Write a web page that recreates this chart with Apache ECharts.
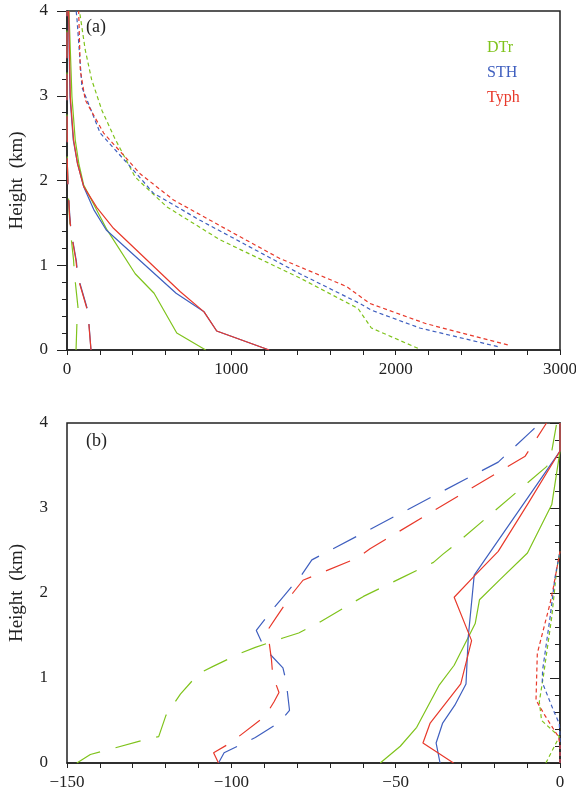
<!DOCTYPE html>
<html>
<head>
<meta charset="utf-8">
<script src="https://cdn.jsdelivr.net/npm/echarts@6/dist/echarts.min.js"></script>
<style>
  html, body { margin: 0; padding: 0; background: #fff; }
  #chart { width: 576px; height: 796px; }
</style>
</head>
<body>
<div id="chart"></div>
<script>
// 颜色
var cDTr = '#7fc31c', cSTH = '#3f5fbf', cTyph = '#e8392b'
var FONT = 'Liberation Serif, DejaVu Serif, serif'

// (a) 数据 [x, height km]
var aSolidDTr = [[844,0],[668,0.2],[530,0.67],[415,0.9],[243,1.42],[101,1.95],[72,2.2],[50,2.48],[30,2.99],[12,4]]
var aSolidSTH = [[1230,0],[911,0.224],[834,0.45],[664,0.67],[239,1.416],[162,1.66],[101,1.93],[64,2.2],[38,2.48],[18,2.99],[9,4]]
var aSolidTyph = [[1230,0],[911,0.224],[834,0.45],[688,0.69],[283,1.436],[182,1.68],[101,1.93],[64,2.2],[40,2.48],[20,2.99],[10,4]]

var aDashDTr = [[55,0],[61,0.35],[67,0.5],[46,0.885],[40,1.06],[20,1.42],[14,1.6],[6,1.93],[2,2.2],[0,2.6],[0,4]]
var aDashSTH = [[146,0],[132,0.35],[126,0.47],[66,0.87],[57,1.05],[25,1.4],[17,1.58],[6,1.93],[2,2.2],[1,2.6],[0,3],[0,4]]
var aDashTyph = [[146,0],[131,0.35],[124,0.47],[64,0.87],[55,1.05],[24,1.4],[16,1.58],[6,1.93],[2,2.2],[1,2.6],[0,3],[0,4]]

var aDotDTr = [[2135,0.02],[1852,0.26],[1771,0.49],[1417,0.85],[931,1.3],[607,1.69],[415,2.04],[290,2.5],[212,2.83],[150,3.19],[111,3.54],[76,4]]
var aDotSTH = [[2621,0.04],[2146,0.26],[1852,0.47],[1781,0.55],[1417,0.9],[810,1.53],[526,1.85],[405,2.12],[202,2.56],[91,3.1],[61,3.9],[56,4]]
var aDotTyph = [[2682,0.06],[2186,0.31],[1842,0.55],[1700,0.75],[1295,1.08],[1012,1.38],[648,1.77],[445,2.08],[223,2.56],[111,2.95],[81,3.3],[71,4]]

// (b) 数据
var bSolidDTr = [[-54.7,0],[-48.6,0.197],[-43.6,0.42],[-36.7,0.92],[-32.2,1.15],[-25.8,1.64],[-24.5,1.92],[-18.2,2.16],[-9.9,2.47],[-2.5,3.04],[0,3.67],[0,4]]
var bSolidSTH = [[-36.5,0],[-37.7,0.236],[-35.7,0.47],[-32,0.68],[-28.6,0.93],[-27.9,1.49],[-26.1,2.21],[0,3.67],[0,4]]
var bSolidTyph = [[-32.4,0],[-41.7,0.236],[-39.5,0.47],[-30.2,0.93],[-26.9,1.44],[-32.2,1.95],[-25.8,2.21],[-18.8,2.49],[-9.6,3.06],[0,3.67],[0,4]]

var bDashDTr = [[-147,0],[-142.9,0.1],[-139,0.14],[-125.7,0.28],[-122.1,0.31],[-119.9,0.56],[-115.5,0.81],[-110,1.05],[-105.4,1.14],[-97.3,1.29],[-92.7,1.36],[-84.3,1.47],[-79.5,1.53],[-73,1.66],[-59.8,1.96],[-47.6,2.19],[-38.5,2.36],[-35.5,2.46],[-31.9,2.57],[-4,3.49],[-2.5,3.67],[-1,4]]
var bDashSTH = [[-103.9,0],[-102.2,0.12],[-97.1,0.217],[-92.7,0.3],[-85.3,0.48],[-82.3,0.62],[-83.3,0.955],[-84.3,1.12],[-89.2,1.32],[-90.2,1.375],[-92.4,1.56],[-87.4,1.81],[-84.1,1.96],[-78.5,2.22],[-75.5,2.39],[-18.8,3.54],[-9.1,3.89],[-6,4]]
var bDashTyph = [[-103.9,0],[-105.4,0.12],[-100.3,0.236],[-89.7,0.55],[-87,0.72],[-85.5,0.83],[-87.4,1.03],[-87.8,1.22],[-89,1.56],[-86.4,1.71],[-81.3,2.0],[-78.2,2.15],[-61.8,2.41],[-57.8,2.52],[-10.6,3.61],[-4.1,4]]

var bDotDTr = [[-4.3,0],[-0.2,0.31],[-5.6,0.5],[-6.3,0.72],[-5.1,1.01],[-2.5,1.72],[-1,2.28],[0,2.49]]
var bDotSTH = [[0,0],[0,0.3],[-0.2,0.46],[-2,0.62],[-5.4,0.95],[-5.3,1.09],[-3,1.72],[-1.5,2.19],[0,2.49]]
var bDotTyph = [[0,0],[0,0.22],[-0.5,0.31],[-4.6,0.56],[-7.3,0.74],[-6.9,1.29],[-3,1.88],[-2,2.07],[0,2.49]]

var LONG = [26,16], DOT = [4,3]

function line(name, color, type, data, idx){
    return {
        name: name, type: 'line', data: data, symbol: 'none',
        xAxisIndex: idx, yAxisIndex: idx, silent: true,
        lineStyle: { color: color, width: 1.2, type: type },
        itemStyle: { color: color }
    }
}

function yAx(idx){
    return {
        type: 'value', gridIndex: idx, min: 0, max: 4, interval: 1,
        name: 'Height  (km)', nameLocation: 'middle', nameGap: 40, nameRotate: 90,
        nameTextStyle: { fontFamily: FONT, fontSize: 19, color: '#222' },
        axisLine: { show: true, lineStyle: { color: '#222', width: 1.5 } },
        axisTick: { show: true, length: 10, lineStyle: { color: '#222' } },
        minorTick: { show: true, splitNumber: 5, length: 5, lineStyle: { color: '#222' } },
        axisLabel: { fontFamily: FONT, fontSize: 17, color: '#222', margin: 19 },
        splitLine: { show: false }
    }
}

function xAx(idx, min, max, interval){
    return {
        type: 'value', gridIndex: idx, min: min, max: max, interval: interval,
        axisLine: { show: true, onZero: false, lineStyle: { color: '#222', width: 1.5 } },
        axisTick: { show: true, length: 5, lineStyle: { color: '#222' } },
        minorTick: { show: true, splitNumber: 5, length: 5, lineStyle: { color: '#222' } },
        axisLabel: {
            fontFamily: FONT, fontSize: 17, color: '#222', margin: 11,
            formatter: function (v) { return String(v).replace('-', '\u2212') }
        },
        splitLine: { show: false }
    }
}

var chart = echarts.init(document.getElementById('chart'))
var option = {
    animation: false,
    backgroundColor: '#fff',
    grid: [
        { left: 67, right: 16, top: 11, height: 339, show: true, borderColor: '#222', borderWidth: 1.5, outerBoundsMode: 'none', containLabel: false },
        { left: 67, right: 16, top: 423, height: 340, show: true, borderColor: '#222', borderWidth: 1.5, outerBoundsMode: 'none', containLabel: false }
    ],
    xAxis: [xAx(0, 0, 3000, 1000), xAx(1, -150, 0, 50)],
    yAxis: [yAx(0), yAx(1)],
    legend: {
        orient: 'vertical', left: 477, top: 35, icon: 'none', itemWidth: 0, itemHeight: 0,
        itemGap: 9, selectedMode: false,
        textStyle: { fontFamily: FONT, fontSize: 16 },
        data: [
            { name: 'DTr', textStyle: { color: cDTr } },
            { name: 'STH', textStyle: { color: cSTH } },
            { name: 'Typh', textStyle: { color: cTyph } }
        ]
    },
    graphic: [
        { type: 'text', left: 86, top: 18, style: { text: '(a)', font: '18px ' + FONT, fill: '#222' } },
        { type: 'text', left: 86, top: 432, style: { text: '(b)', font: '18px ' + FONT, fill: '#222' } }
    ],
    series: [
        line('DTr', cDTr, 'solid', aSolidDTr, 0),
        line('STH', cSTH, 'solid', aSolidSTH, 0),
        line('Typh', cTyph, 'solid', aSolidTyph, 0),
        line('DTr', cDTr, LONG, aDashDTr, 0),
        line('STH', cSTH, LONG, aDashSTH, 0),
        line('Typh', cTyph, LONG, aDashTyph, 0),
        line('DTr', cDTr, DOT, aDotDTr, 0),
        line('STH', cSTH, DOT, aDotSTH, 0),
        line('Typh', cTyph, DOT, aDotTyph, 0),

        line('DTr', cDTr, 'solid', bSolidDTr, 1),
        line('STH', cSTH, 'solid', bSolidSTH, 1),
        line('Typh', cTyph, 'solid', bSolidTyph, 1),
        line('DTr', cDTr, LONG, bDashDTr, 1),
        line('STH', cSTH, LONG, bDashSTH, 1),
        line('Typh', cTyph, LONG, bDashTyph, 1),
        line('DTr', cDTr, DOT, bDotDTr, 1),
        line('STH', cSTH, DOT, bDotSTH, 1),
        line('Typh', cTyph, DOT, bDotTyph, 1)
    ]
}
chart.setOption(option)
</script>
</body>
</html>
